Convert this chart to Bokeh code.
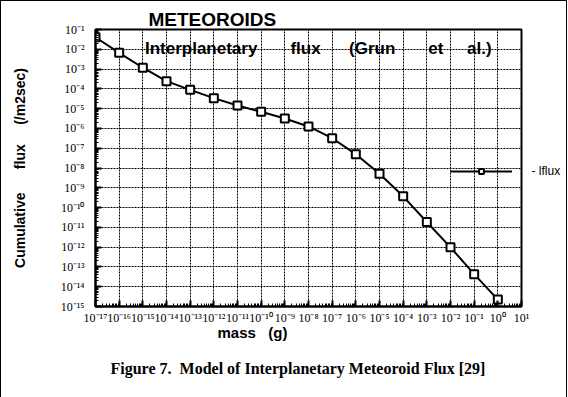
from bokeh.plotting import figure
from bokeh.models import (FixedTicker, CustomJSTickFormatter, Label, Legend,
                          LegendItem, Title, LogAxis)
from bokeh.embed import file_html
from bokeh.resources import INLINE

# ---- data ----
mass = [1e-17, 1e-16, 1e-15, 1e-14, 1e-13, 1e-12, 1e-11, 1e-10, 1e-9,
        1e-8, 1e-7, 1e-6, 1e-5, 1e-4, 1e-3, 1e-2, 1e-1, 1e0]
lflux = [4.07e-2, 6.6e-3, 1.17e-3, 2.45e-4, 8.9e-5, 3.4e-5, 1.45e-5, 6.9e-6,
         3.2e-6, 1.26e-6, 3.2e-7, 5.0e-8, 5.1e-9, 3.7e-10, 1.86e-11, 9.8e-13,
         4.3e-14, 2.24e-15]
x_decades = list(range(-17, 2))
y_decades = list(range(-15, 0))
series_name = "lflux"

NB = "\u00a0"

x_major = [10.0 ** e for e in x_decades]
y_major = [10.0 ** e for e in y_decades]
x_minor = [k * 10.0 ** e for e in x_decades[:-1] for k in range(2, 10)]
y_minor = [k * 10.0 ** e for e in y_decades[:-1] for k in range(2, 10)]

p = figure(x_axis_type="log", y_axis_type="log",
           x_range=(1e-17, 1e1), y_range=(1e-15, 1e-1),
           frame_width=426, frame_height=277,
           min_border_left=94, min_border_right=45,
           min_border_top=28, min_border_bottom=89,
           output_backend="svg", toolbar_location=None,
           background_fill_color="white", border_fill_color="white",
           styles={"border": "1px solid black"})

p.outline_line_color = "black"
p.outline_line_width = 2

sup = CustomJSTickFormatter(code="""
const e = Math.round(Math.log10(tick));
const m = {'-':'\u207b','0':'\u2070','1':'\u00b9','2':'\u00b2','3':'\u00b3',
           '4':'\u2074','5':'\u2075','6':'\u2076','7':'\u2077','8':'\u2078','9':'\u2079'};
return '10' + String(e).split('').map(c => m[c]).join('');
""")

p.xaxis.ticker = FixedTicker(ticks=x_major, minor_ticks=x_minor)
p.yaxis.ticker = FixedTicker(ticks=y_major, minor_ticks=y_minor)
for ax in (p.xaxis[0], p.yaxis[0]):
    ax.formatter = sup
    ax.axis_line_color = "black"
    ax.axis_line_width = 2
    ax.major_tick_in = 6
    ax.major_tick_out = 0
    ax.minor_tick_in = 3
    ax.minor_tick_out = 0
    ax.major_tick_line_width = 2
    ax.minor_tick_line_width = 1
    ax.major_label_text_font = "Liberation Serif"
    ax.major_label_text_font_size = "12px"
    ax.major_label_text_color = "black"

p.xaxis.major_label_standoff = 4
p.yaxis.major_label_standoff = 11

p.yaxis.axis_label = "Cumulative" + NB * 5 + " flux" + NB * 4 + " (/m2sec)"
p.yaxis.axis_label_text_font = "Liberation Sans"
p.yaxis.axis_label_text_font_style = "bold"
p.yaxis.axis_label_text_font_size = "14px"
p.yaxis.axis_label_text_color = "black"
p.yaxis.axis_label_standoff = 30

p.xgrid.ticker = FixedTicker(ticks=x_major)
p.ygrid.ticker = FixedTicker(ticks=y_major)
for g in (p.xgrid[0], p.ygrid[0]):
    g.grid_line_color = "black"
    g.grid_line_dash = "2 1"
    g.grid_line_width = 1
    g.grid_line_alpha = 1.0

r_line = p.line(mass, lflux, line_color="black", line_width=2)
r_pts = p.scatter(mass, lflux, marker="square", size=8, line_color="black",
                  line_width=2, fill_color="white")

# legend sample (inside the frame); its name is written just outside the frame
legend = Legend(items=[LegendItem(label=" ", renderers=[r_line, r_pts])],
                location=(355, 129), orientation="vertical", padding=0,
                margin=0, spacing=0, glyph_width=62, glyph_height=12,
                label_height=12, label_standoff=0, label_width=0,
                label_text_font_size="1px",
                background_fill_alpha=0, border_line_alpha=0)
p.add_layout(legend)

name_axis = LogAxis(ticker=FixedTicker(ticks=[10 ** -8.16]),
                    formatter=CustomJSTickFormatter(code="return '- %s';" % series_name),
                    axis_line_color=None, major_tick_line_color=None,
                    minor_tick_line_color=None, major_label_standoff=4,
                    major_label_text_font="Liberation Sans",
                    major_label_text_font_size="12px",
                    major_label_text_color="black")
p.add_layout(name_axis, "right")

p.add_layout(Title(text="METEOROIDS", align="left", offset=53, standoff=-1,
                   text_font="Liberation Sans", text_font_style="bold",
                   text_font_size="19px", text_color="black"), "above")

p.add_layout(Label(x=10 ** -14.91, y=10 ** -1.96,
                   text="Interplanetary" + NB * 6 + " flux" + NB * 5 + " (Grun"
                        + NB * 6 + " et" + NB * 4 + " al.)",
                   text_font="Liberation Sans", text_font_style="bold",
                   text_font_size="17px", text_baseline="alphabetic",
                   text_color="black"))

p.add_layout(Title(text="mass" + NB * 2 + " (g)", align="left", offset=122,
                   standoff=-11, text_font="Liberation Sans",
                   text_font_style="bold", text_font_size="15px",
                   text_color="black"), "below")
p.add_layout(Title(text="Figure 7." + NB + " Model of Interplanetary Meteoroid Flux [29]",
                   align="left", offset=15, standoff=45,
                   text_font="Liberation Serif", text_font_style="bold",
                   text_font_size="16px", text_color="black"), "below")

open("out.html", "w").write(file_html(p, INLINE))
